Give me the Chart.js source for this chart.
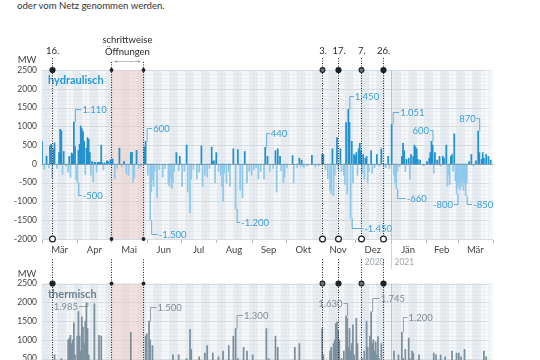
<!DOCTYPE html>
<html>
<head>
<meta charset="utf-8">
<script src="https://cdn.jsdelivr.net/npm/chart.js@4.4.1/dist/chart.umd.min.js"></script>
<style>
    html, body { margin: 0; padding: 0; background: #fff; overflow: hidden; width: 540px; height: 360px; font-family: Lato, 'Open Sans', sans-serif; }
    #intro { position: absolute; left: 17px; top: 0; font-size: 9.6px; color: #333; }
    .box { position: absolute; left: 0; width: 540px; }
    #hydBox { top: 0; height: 270px; }
    #thmBox { top: 255px; height: 165px; }
</style>
</head>
<body>
<div id="intro">oder vom Netz genommen werden.</div>
<div class="box" id="hydBox"><canvas id="hydChart"></canvas></div>
<div class="box" id="thmBox"><canvas id="thmChart"></canvas></div>
<script>
// days counted from 1 March 2020
const monthStarts = [0, 31, 61, 92, 122, 153, 184, 214, 245, 275, 306, 337, 365, 396];
const monthLabels = ['Mär', 'Apr', 'Mai', 'Jun', 'Jul', 'Aug', 'Sep', 'Okt', 'Nov', 'Dez', 'Jän', 'Feb', 'Mär'];
const yearBreak = 306;
const yearLabels = ['2020', '2021'];

// lockdown events and the "schrittweise Öffnungen" span
const eventDays = [8.5, 61, 89, 246, 260, 280, 299];
const eventLabels = ['16.', '', '', '3.', '17.', '7.', '26.'];
const eventKinds = ['big', 'small', 'small', 'ring', 'big', 'ring', 'big'];
const openingDays = [61, 89];

// hydraulic power, MW per day (positive / negative)
const hydDays = [0, 2, 4, 6, 7, 8, 9, 10, 11, 13, 15, 16, 17, 18, 19, 21, 23, 24, 25, 26, 27, 28, 29, 30, 31, 32, 33, 34, 35, 36, 37, 38, 39, 40, 41, 42, 43, 44, 45, 46, 47, 48, 49, 50, 51, 52, 53, 54, 55, 57, 58, 60, 62, 64, 66, 68, 70, 72, 74, 76, 78, 79, 80, 81, 83, 85, 87, 90, 91, 93, 95, 96, 97, 98, 99, 101, 103, 106, 108, 111, 112, 113, 114, 115, 116, 118, 120, 121, 123, 125, 127, 128, 130, 131, 133, 136, 138, 140, 141, 143, 145, 147, 149, 150, 151, 152, 153, 155, 157, 158, 159, 160, 162, 164, 165, 168, 170, 172, 174, 176, 178, 180, 182, 184, 186, 188, 190, 192, 195, 196, 198, 200, 203, 205, 206, 207, 209, 210, 212, 213, 215, 220, 221, 224, 226, 227, 228, 229, 230, 233, 237, 240, 243, 246, 247, 249, 251, 253, 254, 255, 256, 257, 259, 260, 262, 263, 265, 266, 267, 268, 269, 270, 271, 272, 273, 274, 275, 276, 277, 278, 279, 280, 281, 282, 283, 284, 285, 286, 287, 289, 290, 292, 294, 296, 298, 300, 302, 304, 305, 307, 309, 310, 311, 312, 314, 316, 317, 318, 319, 320, 322, 323, 324, 326, 327, 328, 329, 330, 332, 335, 338, 340, 341, 342, 343, 344, 345, 347, 349, 350, 352, 353, 355, 356, 357, 358, 359, 360, 361, 362, 363, 364, 365, 366, 367, 368, 369, 370, 371, 372, 373, 375, 377, 379, 381, 383, 384, 386, 387, 388, 390, 392, 394];
const hydValues = [600, -150, 210, -100, 480, 520, -380, 400, 560, -120, 300, 920, 880, -280, 330, -60, -220, 200, -360, 290, 260, 1110, 460, -420, -500, 360, 520, 1010, 940, 860, 600, -280, 420, 700, 650, 300, -300, 60, -480, 40, 40, -220, 40, 40, 40, 500, 30, -160, 30, 80, 60, 110, 130, -400, -120, 420, -80, 60, -260, -300, 300, 310, -500, -380, 360, -120, -60, 450, 600, -300, -1500, -750, -420, -600, -200, -900, -150, -350, -120, -550, -600, -380, -650, -500, -200, 300, -180, 200, -600, -200, 500, -750, -1300, -400, -150, -400, -220, 480, -600, -300, -350, -120, 450, 60, 80, -500, 300, -200, -300, -600, -1000, -250, -500, -200, -600, 400, -1200, 380, -700, -900, 330, -500, -200, -300, -150, -100, -400, -200, -400, 440, 200, -200, -120, 350, -750, 400, 200, -180, -500, -350, -100, 220, -500, -100, 150, -80, 100, -60, -100, -60, 230, -80, -50, 250, 250, -150, -400, -700, -800, 400, -850, -300, 700, -150, 400, -200, -300, -550, 1100, -800, 1450, 1100, -1450, 600, -500, 250, 200, 300, -300, 400, 550, 350, -250, 250, -400, 150, 200, -500, -200, 350, -250, -100, 250, -60, 400, -80, -100, 200, -120, 1051, -300, -500, -660, -200, -80, 200, 550, 350, -200, 120, 150, -400, 250, 200, 500, 450, 400, 120, 100, -60, 60, 150, 300, 600, 500, -250, 300, 100, 200, -60, 200, 150, 500, -600, -300, -550, 200, 250, -200, 800, -450, -800, -650, -500, -700, -600, -450, -700, -550, -850, -500, 60, 250, -60, 80, 870, 300, 120, 300, 150, 250, 200, 100];

// thermal power, MW per day
const thmDays = [3, 6, 11, 14, 17, 20, 23, 24, 25, 26, 27, 28, 29, 30, 31, 32, 33, 34, 35, 36, 37, 38, 39, 40, 41, 43, 46, 48, 50, 52, 55, 58, 62, 66, 70, 75, 78, 80, 84, 88, 91, 92, 94, 95, 97, 100, 104, 108, 112, 115, 118, 120, 124, 127, 130, 131, 134, 138, 141, 143, 145, 148, 150, 152, 155, 157, 159, 161, 164, 166, 168, 170, 172, 174, 177, 180, 183, 185, 188, 191, 194, 197, 199, 202, 205, 207, 210, 213, 216, 219, 222, 224, 226, 229, 232, 235, 238, 241, 244, 246, 247, 249, 251, 253, 254, 256, 257, 258, 259, 260, 261, 263, 265, 267, 268, 269, 270, 271, 272, 273, 274, 276, 277, 279, 281, 283, 285, 286, 288, 289, 290, 291, 292, 293, 294, 295, 296, 298, 300, 303, 306, 309, 311, 313, 316, 317, 319, 321, 322, 323, 325, 326, 328, 331, 333, 336, 339, 341, 344, 346, 348, 350, 352, 354, 356, 358, 360, 362, 364, 366, 368, 371, 373, 376, 379, 382, 385, 388, 390, 393];
const thmValues = [150, 200, 600, 300, 500, 250, 1000, 1050, 1120, 900, 1000, 1450, 600, 400, 1100, 1750, 1100, 700, 1610, 1340, 900, 1500, 1985, 1300, 600, 300, 1960, 350, 1120, 1100, 300, 200, 250, 300, 200, 400, 1200, 300, 250, 350, 1100, 1160, 1500, 1000, 850, 400, 300, 350, 400, 600, 450, 600, 350, 500, 1280, 750, 400, 550, 350, 650, 850, 400, 650, 450, 550, 350, 700, 400, 850, 450, 1100, 1300, 500, 400, 800, 700, 350, 600, 400, 300, 450, 1300, 500, 350, 1100, 800, 400, 300, 350, 400, 800, 450, 900, 350, 300, 400, 350, 450, 400, 1300, 600, 400, 450, 700, 800, 900, 1000, 1430, 1480, 1250, 1000, 500, 700, 1630, 1570, 800, 1300, 700, 900, 1400, 600, 1570, 900, 400, 500, 700, 1500, 800, 1100, 1745, 900, 1000, 700, 950, 600, 1090, 500, 900, 400, 300, 350, 700, 400, 600, 1200, 500, 750, 400, 1050, 500, 700, 650, 400, 600, 350, 300, 350, 400, 650, 600, 350, 600, 400, 550, 350, 400, 700, 450, 650, 650, 550, 750, 400, 350, 300, 400, 350, 700, 550, 300];

// labelled peaks: label height (MW), side of the bar and gap in px
const hydNotes = [
    { day: 28, text: '1.110', at: 1460, side: 'r', gap: 6 },
    { day: 31, text: '-500', at: -828, side: 'r', gap: 3 },
    { day: 91, text: '600', at: 958, side: 'r', gap: 5 },
    { day: 95, text: '-1.500', at: -1866, side: 'r', gap: 6 },
    { day: 170, text: '-1.200', at: -1547, side: 'r', gap: 3 },
    { day: 196, text: '440', at: 823, side: 'r', gap: 3 },
    { day: 269, text: '1.450', at: 1808, side: 'r', gap: 4 },
    { day: 271, text: '-1.450', at: -1704, side: 'r', gap: 11 },
    { day: 307, text: '1.051', at: 1383, side: 'r', gap: 6 },
    { day: 311, text: '-660', at: -905, side: 'r', gap: 8 },
    { day: 342, text: '600', at: 905, side: 'l', gap: 3 },
    { day: 364, text: '-800', at: -1065, side: 'l', gap: 4 },
    { day: 372, text: '-850', at: -1065, side: 'r', gap: 5 },
    { day: 383, text: '870', at: 1222, side: 'l', gap: 3 }
];
const thmNotes = [
    { day: 39, text: '1.985', at: 1900, side: 'l', gap: 9 },
    { day: 94, text: '1.500', at: 1874, side: 'r', gap: 6 },
    { day: 170, text: '1.300', at: 1661, side: 'r', gap: 6 },
    { day: 267, text: '1.630', at: 1981, side: 'l', gap: 4 },
    { day: 289, text: '1.745', at: 2114, side: 'r', gap: 7 },
    { day: 316, text: '1.200', at: 1608, side: 'r', gap: 4 }
];

const FONT = 'Lato, "Open Sans", sans-serif';
const HYD_POS = '#2291d0';
const HYD_NEG = '#8fcaec';
const THM = '#7d909e';
const monthMids = monthStarts.slice(0, -1).map((d, i) => (d + monthStarts[i + 1]) / 2);

function drawBackground(chart) {
    const { ctx, chartArea: a, scales: { x, y } } = chart;
    ctx.save();
    ctx.fillStyle = '#f5f7f9';
    ctx.fillRect(a.left, a.top, a.right - a.left, a.bottom - a.top);

    // alternating weeks
    ctx.fillStyle = '#e7ecf1';
    for (let d = 0, w = 0; d < 396; d += 7, w++) {
        if (w % 2) continue;
        const x0 = x.getPixelForValue(d);
        const x1 = x.getPixelForValue(Math.min(d + 7, 396));
        ctx.fillRect(x0, a.top, x1 - x0, a.bottom - a.top);
    }

    // fine vertical grid
    ctx.strokeStyle = 'rgba(205,214,222,0.35)';
    ctx.lineWidth = 0.5;
    for (let d = 0; d <= 396; d += 3.5) {
        const px = x.getPixelForValue(d);
        ctx.beginPath(); ctx.moveTo(px, a.top); ctx.lineTo(px, a.bottom); ctx.stroke();
    }

    // horizontal grid, every 100 MW
    for (let v = y.min; v <= y.max; v += 100) {
        const py = Math.round(y.getPixelForValue(v)) + 0.5;
        ctx.strokeStyle = v % 500 === 0 ? '#d3dae0' : 'rgba(205,213,220,0.45)';
        ctx.lineWidth = v % 500 === 0 ? 1 : 0.5;
        ctx.beginPath(); ctx.moveTo(a.left, py); ctx.lineTo(a.right, py); ctx.stroke();
    }

    // schrittweise Öffnungen
    const o0 = x.getPixelForValue(openingDays[0]);
    const o1 = x.getPixelForValue(openingDays[1]);
    ctx.fillStyle = 'rgba(240,200,190,0.45)';
    ctx.fillRect(o0, a.top, o1 - o0, a.bottom - a.top);

    // year break
    const yb = Math.round(x.getPixelForValue(yearBreak)) + 0.5;
    ctx.strokeStyle = '#bcc4cb';
    ctx.lineWidth = 1;
    ctx.beginPath(); ctx.moveTo(yb, a.top); ctx.lineTo(yb, a.bottom); ctx.stroke();

    // plot fades out on the right
    const g = ctx.createLinearGradient(a.right - 10, 0, a.right, 0);
    g.addColorStop(0, 'rgba(255,255,255,0)');
    g.addColorStop(1, 'rgba(255,255,255,0.7)');
    ctx.fillStyle = g;
    ctx.fillRect(a.right - 10, a.top, 10, a.bottom - a.top);
    ctx.restore();
}

function dot(ctx, px, py, kind) {
    ctx.beginPath();
    if (kind === 'big') {
        ctx.arc(px, py, 3.1, 0, Math.PI * 2);
        ctx.fillStyle = '#1c2228'; ctx.fill();
    } else if (kind === 'small') {
        ctx.arc(px, py, 1.9, 0, Math.PI * 2);
        ctx.fillStyle = '#1c2228'; ctx.fill();
    } else if (kind === 'ring') {
        ctx.arc(px, py, 2.4, 0, Math.PI * 2);
        ctx.fillStyle = '#6a737b'; ctx.fill();
        ctx.strokeStyle = '#1c2228'; ctx.lineWidth = 1.1; ctx.stroke();
    } else {
        ctx.arc(px, py, 2.9, 0, Math.PI * 2);
        ctx.fillStyle = '#fff'; ctx.fill();
        ctx.strokeStyle = '#1c2228'; ctx.lineWidth = 1.2; ctx.stroke();
    }
}

function drawNotes(chart, notes, days, values, color) {
    const { ctx, scales: { x, y } } = chart;
    ctx.save();
    ctx.strokeStyle = color;
    ctx.fillStyle = color;
    ctx.lineWidth = 0.8;
    ctx.font = '9.5px ' + FONT;
    ctx.textBaseline = 'middle';
    notes.forEach(n => {
        const value = values[days.indexOf(n.day)];
        const bx = x.getPixelForValue(n.day) + 1.5;
        const by = y.getPixelForValue(value);
        const ly = Math.round(y.getPixelForValue(n.at)) + 0.5;
        const lx = n.side === 'r' ? bx + n.gap : bx - n.gap;
        ctx.beginPath();
        ctx.moveTo(bx, by);
        ctx.lineTo(bx, ly);
        ctx.lineTo(lx, ly);
        ctx.stroke();
        ctx.textAlign = n.side === 'r' ? 'left' : 'right';
        ctx.fillText(n.text, n.side === 'r' ? lx + 1 : lx - 1, ly);
    });
    ctx.restore();
}

function drawEvents(chart, isTop) {
    const { ctx, chartArea: a, scales: { x } } = chart;
    ctx.save();
    ctx.strokeStyle = '#1c2228';
    ctx.lineWidth = 1;
    ctx.setLineDash([1, 1.5]);
    eventDays.forEach((d, i) => {
        const px = Math.round(x.getPixelForValue(d)) + 0.5;
        const from = isTop ? a.top - (eventLabels[i] ? 12 : 8) : a.top - 24;
        const to = isTop ? a.bottom : chart.height;
        ctx.beginPath(); ctx.moveTo(px, from); ctx.lineTo(px, to); ctx.stroke();
    });
    ctx.setLineDash([]);
    eventDays.forEach((d, i) => {
        const px = Math.round(x.getPixelForValue(d)) + 0.5;
        dot(ctx, px, a.top, eventKinds[i]);
        if (isTop) dot(ctx, px, a.bottom, eventKinds[i] === 'small' ? 'small' : 'open');
    });

    if (isTop) {
        ctx.fillStyle = '#2a2a2a';
        ctx.font = '9.5px ' + FONT;
        ctx.textAlign = 'center';
        ctx.textBaseline = 'middle';
        eventDays.forEach((d, i) => {
            if (eventLabels[i]) ctx.fillText(eventLabels[i], x.getPixelForValue(d) + 1, a.top - 19);
        });
        const o0 = x.getPixelForValue(openingDays[0]);
        const o1 = x.getPixelForValue(openingDays[1]);
        const mid = (o0 + o1) / 2;
        ctx.fillText('schrittweise', mid, a.top - 30);
        ctx.fillText('Öffnungen', mid, a.top - 18);
        // double arrow between the two dates
        const ay = a.top - 8.5;
        ctx.strokeStyle = '#9aa3ab';
        ctx.fillStyle = '#9aa3ab';
        ctx.lineWidth = 0.7;
        ctx.beginPath(); ctx.moveTo(o0 + 3, ay); ctx.lineTo(o1 - 3, ay); ctx.stroke();
        ctx.beginPath(); ctx.moveTo(o0 + 3, ay); ctx.lineTo(o0 + 5.5, ay - 1.5); ctx.lineTo(o0 + 5.5, ay + 1.5); ctx.fill();
        ctx.beginPath(); ctx.moveTo(o1 - 3, ay); ctx.lineTo(o1 - 5.5, ay - 1.5); ctx.lineTo(o1 - 5.5, ay + 1.5); ctx.fill();
    }
    ctx.restore();
}

function decorPlugin(isTop) {
    return {
        id: 'decor',
        beforeDatasetsDraw(chart) {
            drawBackground(chart);
        },
        afterDatasetsDraw(chart) {
            const { ctx, chartArea: a, scales: { x, y } } = chart;
            ctx.save();
            // zero line
            const zy = Math.round(y.getPixelForValue(0)) + 0.5;
            ctx.strokeStyle = '#7f8f9c';
            ctx.lineWidth = 0.8;
            ctx.beginPath(); ctx.moveTo(a.left, zy); ctx.lineTo(a.right, zy); ctx.stroke();

            // unit and panel title
            ctx.fillStyle = '#444';
            ctx.font = '9.5px ' + FONT;
            ctx.textAlign = 'center';
            ctx.textBaseline = 'middle';
            ctx.fillText('MW', 27, a.top - 10);
            ctx.textAlign = 'left';
            ctx.font = 'bold 11px ' + FONT;
            ctx.fillStyle = isTop ? '#1e98d6' : '#6b8091';
            ctx.fillText(isTop ? 'hydraulisch' : 'thermisch', a.left + 6, a.top + 10.5);

            if (isTop) {
                // month ticks and year labels
                ctx.strokeStyle = '#9aa2a9';
                ctx.lineWidth = 0.8;
                monthStarts.forEach(d => {
                    const px = Math.round(x.getPixelForValue(d)) + 0.5;
                    ctx.beginPath(); ctx.moveTo(px, a.bottom + 1); ctx.lineTo(px, a.bottom + 4); ctx.stroke();
                });
                const yb = Math.round(x.getPixelForValue(yearBreak)) + 0.5;
                ctx.strokeStyle = '#c3c9cf';
                ctx.beginPath(); ctx.moveTo(yb, a.bottom); ctx.lineTo(yb, a.bottom + 30); ctx.stroke();
                ctx.fillStyle = '#9ea6ad';
                ctx.font = '8.5px ' + FONT;
                ctx.textAlign = 'right';
                ctx.fillText(yearLabels[0], yb - 7, a.bottom + 23);
                ctx.textAlign = 'left';
                ctx.fillText(yearLabels[1], yb + 3, a.bottom + 23);
            }
            ctx.restore();

            drawEvents(chart, isTop);
            if (isTop) drawNotes(chart, hydNotes, hydDays, hydValues, '#3a9fd9');
            else drawNotes(chart, thmNotes, thmDays, thmValues, '#7d8c98');
        }
    };
}

function makeChart(canvasId, days, values, colorFn, yMin, padTop, xHeight, isTop) {
    return new Chart(document.getElementById(canvasId), {
        type: 'bar',
        data: {
            datasets: [{
                data: days.map((d, i) => ({ x: d, y: values[i] })),
                backgroundColor: colorFn,
                barThickness: 1.1,
                borderWidth: 0
            }]
        },
        options: {
            responsive: true,
            maintainAspectRatio: false,
            animation: false,
            layout: { padding: { top: padTop, right: 47, left: 0, bottom: 0 } },
            plugins: { legend: { display: false }, tooltip: { enabled: false } },
            scales: {
                x: {
                    type: 'linear',
                    min: 0,
                    max: 396,
                    offset: false,
                    grid: { display: false, drawTicks: false },
                    border: { display: false },
                    afterFit: s => { s.height = xHeight; },
                    afterBuildTicks: s => { s.ticks = monthMids.map(v => ({ value: v })); },
                    ticks: {
                        display: isTop,
                        autoSkip: false,
                        maxRotation: 0,
                        padding: 5,
                        color: '#444',
                        font: { size: 9.5, family: FONT },
                        callback: (v, i) => monthLabels[i]
                    }
                },
                y: {
                    min: yMin,
                    max: 2500,
                    grid: { display: false, drawTicks: false },
                    border: { display: false },
                    afterFit: s => { s.width = 42; },
                    ticks: {
                        stepSize: 500,
                        padding: 5,
                        color: '#444',
                        font: { size: 8.5, family: FONT },
                        callback: v => String(v)
                    }
                }
            }
        },
        plugins: [decorPlugin(isTop)]
    });
}

makeChart('hydChart', hydDays, hydValues, c => (c.parsed && c.parsed.y < 0 ? HYD_NEG : HYD_POS), -2000, 70, 31, true);
makeChart('thmChart', thmDays, thmValues, THM, 0, 28.5, 42.6, false);
</script>
</body>
</html>
